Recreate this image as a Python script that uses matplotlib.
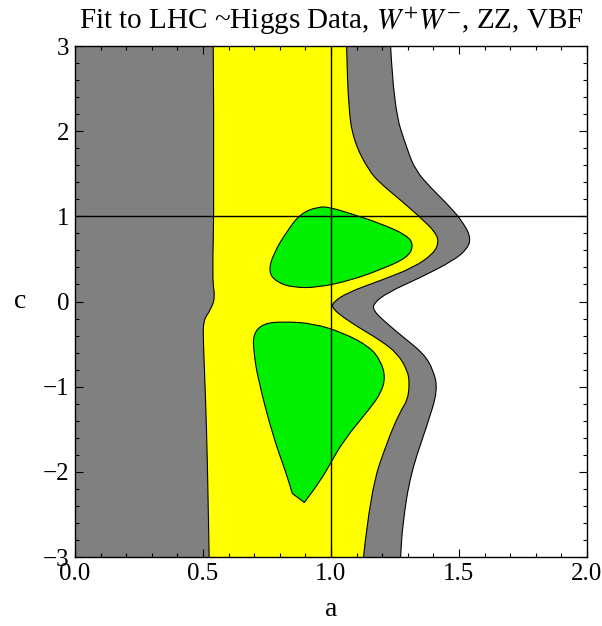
# contour regions of the a-c fit, redrawn from the figure

import matplotlib
matplotlib.use("Agg")
import matplotlib.pyplot as plt
from matplotlib.path import Path
from matplotlib.patches import PathPatch
from matplotlib.ticker import MultipleLocator, FormatStrFormatter

# left edge of the yellow band (top to bottom)
yel_left_x = [0.540, 0.544, 0.536, 0.548, 0.528, 0.501, 0.501, 0.509, 0.517, 0.524]
yel_left_y = [3.0, 1.186, 0.247, 0.047, -0.106, -0.223, -0.458, -1.045, -1.832, -3.0]

# right edge of the yellow band (top to bottom)
yel_right_x = [1.061, 1.068, 1.088, 1.147, 1.194, 1.260, 1.350, 1.409, 1.421, 1.401,
               1.323, 1.194, 1.065, 1.006, 1.006, 1.049, 1.115, 1.194, 1.260, 1.299,
               1.307, 1.299, 1.272, 1.221, 1.155, 1.127]
yel_right_y = [3.0, 2.278, 1.890, 1.538, 1.385, 1.221, 0.986, 0.810, 0.693, 0.564,
               0.399, 0.247, 0.106, -0.012, -0.082, -0.188, -0.317, -0.458, -0.611, -0.810,
               -0.963, -1.162, -1.280, -1.632, -2.219, -3.0]

# right edge of the gray region (top to bottom)
gray_right_x = [1.233, 1.245, 1.299, 1.331, 1.389, 1.468, 1.519, 1.546, 1.534, 1.479,
                1.350, 1.221, 1.166, 1.166, 1.205, 1.284, 1.362, 1.401, 1.417, 1.378,
                1.311, 1.280, 1.272]
gray_right_y = [3.0, 2.278, 1.773, 1.538, 1.338, 1.104, 0.916, 0.751, 0.622, 0.481,
                0.282, 0.106, -0.023, -0.106, -0.223, -0.423, -0.611, -0.810, -1.045, -1.432,
                -2.019, -2.607, -3.0]

# upper green island
green1_x = [0.951, 0.998, 1.076, 1.194, 1.299, 1.323, 1.299, 1.205, 1.076, 0.947,
            0.853, 0.791, 0.755, 0.775, 0.830, 0.881]
green1_y = [1.115, 1.104, 1.033, 0.916, 0.775, 0.658, 0.517, 0.387, 0.247, 0.164,
            0.164, 0.223, 0.341, 0.564, 0.834, 1.033]

# lower green island
green2_x = [0.814, 0.932, 1.050, 1.150, 1.194, 1.213, 1.194, 1.155, 1.049, 0.998,
            0.959, 0.896, 0.849, 0.822, 0.775, 0.716, 0.697, 0.697, 0.736]
green2_y = [-0.235, -0.258, -0.370, -0.530, -0.693, -0.892, -1.080, -1.245, -1.632, -1.902,
            -2.102, -2.360, -2.254, -1.988, -1.597, -0.928, -0.575, -0.376, -0.258]
green2_corners = [11, 12]   # bottom tip and the kink beside it

sm_a, sm_c = 1.0, 1.0

GRAY = "#808080"
YELLOW = "#ffff00"
GREEN = "#00f000"


def mid(p, q):
    return ((p[0] + q[0]) / 2, (p[1] + q[1]) / 2)


def open_curve(xs, ys):
    # quadratic bezier through the midpoints, ends pinned
    pts = list(zip(xs, ys))
    verts = [pts[0]]
    codes = [Path.MOVETO]
    for i in range(1, len(pts) - 1):
        verts += [pts[i], mid(pts[i], pts[i + 1])]
        codes += [Path.CURVE3, Path.CURVE3]
    verts.append(pts[-1])
    codes.append(Path.LINETO)
    return verts, codes


def closed_curve(xs, ys, corners=()):
    pts = list(zip(xs, ys))
    n = len(pts)
    start = mid(pts[-1], pts[0])
    verts = [start]
    codes = [Path.MOVETO]
    for i in range(n):
        m = mid(pts[i], pts[(i + 1) % n])
        if i in corners:
            verts += [pts[i], m]
            codes += [Path.LINETO, Path.LINETO]
        else:
            verts += [pts[i], m]
            codes += [Path.CURVE3, Path.CURVE3]
    verts.append(start)
    codes.append(Path.CLOSEPOLY)
    return Path(verts, codes)


def join(*parts):
    verts, codes = [], []
    for v, c in parts:
        c = list(c)
        if verts:
            c[0] = Path.LINETO
        verts += v
        codes += c
    verts.append(verts[0])
    codes.append(Path.CLOSEPOLY)
    return Path(verts, codes)


plt.rcParams["font.family"] = ["Liberation Serif", "DejaVu Serif"]
plt.rcParams["mathtext.fontset"] = "stix"

fig = plt.figure(figsize=(6.02, 6.26), dpi=100)
ax = fig.add_axes([0.1246, 0.1102, 0.8504, 0.8163])

lw = 0.8

# gray: from a=0 to its right boundary
g_edge = open_curve(gray_right_x, gray_right_y)
gray_path = join(([(0.0, 3.0)], [Path.MOVETO]), g_edge, ([(0.0, -3.0)], [Path.LINETO]))
ax.add_patch(PathPatch(gray_path, facecolor=GRAY, lw=0))
ax.add_patch(PathPatch(Path(*g_edge), fill=False, edgecolor="black", lw=lw))

# yellow band
yl = open_curve(yel_left_x, yel_left_y)
yr = open_curve(yel_right_x[::-1], yel_right_y[::-1])
ax.add_patch(PathPatch(join(yl, yr), facecolor=YELLOW, lw=0))
ax.add_patch(PathPatch(Path(*yl), fill=False, edgecolor="black", lw=lw))
ax.add_patch(PathPatch(Path(*yr), fill=False, edgecolor="black", lw=lw))

# green islands
ax.add_patch(PathPatch(closed_curve(green1_x, green1_y),
                       facecolor=GREEN, edgecolor="black", lw=lw))
ax.add_patch(PathPatch(closed_curve(green2_x, green2_y, green2_corners),
                       facecolor=GREEN, edgecolor="black", lw=lw))

# SM point lines
ax.axvline(sm_a, color="black", lw=1.0)
ax.axhline(sm_c, color="black", lw=1.0)

ax.set_xlim(0, 2)
ax.set_ylim(-3, 3)

ax.xaxis.set_major_locator(MultipleLocator(0.5))
ax.xaxis.set_minor_locator(MultipleLocator(0.1))
ax.yaxis.set_major_locator(MultipleLocator(1))
ax.yaxis.set_minor_locator(MultipleLocator(0.2))
ax.xaxis.set_major_formatter(FormatStrFormatter("%.1f"))
ax.tick_params(which="both", direction="in", top=True, right=True, width=0.8)
ax.tick_params(which="major", length=6, labelsize=18, pad=4)
ax.tick_params(which="minor", length=3)
for s in ax.spines.values():
    s.set_linewidth(1.0)

ax.set_xlabel("a", fontsize=20, labelpad=9)
ax.set_ylabel("c", fontsize=20, rotation=0, labelpad=16, va="center")
ax.set_title(r"Fit to LHC ~Higgs Data, $W^{+}W^{-}$, ZZ, VBF", fontsize=21, pad=12)

fig.savefig("out.png", dpi=100)
